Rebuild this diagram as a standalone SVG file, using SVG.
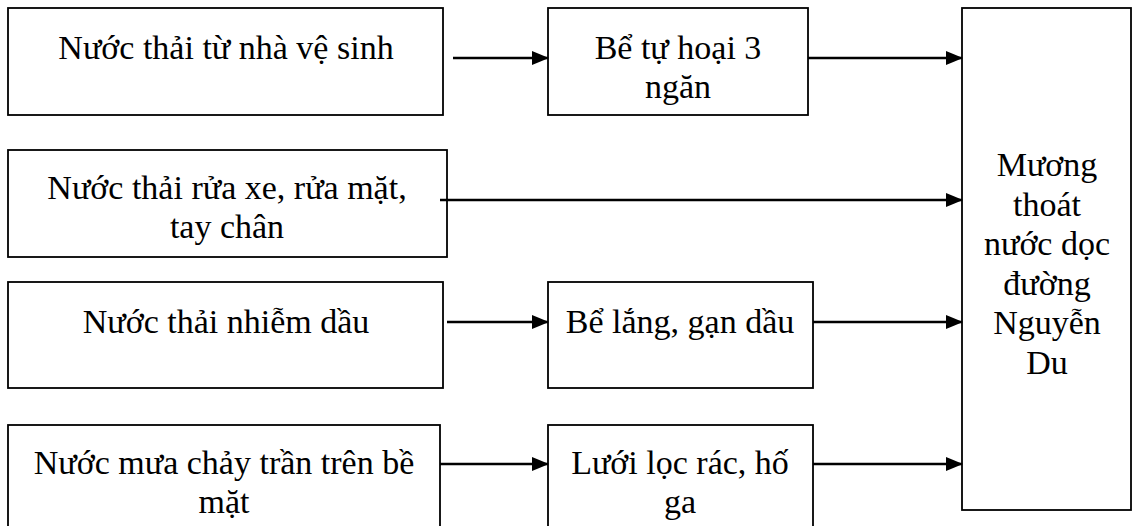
<svg xmlns="http://www.w3.org/2000/svg" width="1139" height="526" viewBox="0 0 1139 526">
<style>
.box{fill:#fff;stroke:#000;stroke-width:1.8}
.t{font-family:"Liberation Serif","Times New Roman",serif;font-size:34px;fill:#000;text-anchor:middle}
.c{stroke:#000;stroke-width:2.6;fill:none}
</style>
<defs>
<marker id="ah" markerWidth="17" markerHeight="14" refX="16" refY="7" orient="auto" markerUnits="userSpaceOnUse">
<path d="M0,0 L17,7 L0,14 Z" fill="#000"/>
</marker>
</defs>
<rect width="1139" height="526" fill="#fff"/>
<g id="n1"><rect class="box" x="8" y="8" width="435" height="107"/><text class="t" x="226" y="59">Nước thải từ nhà vệ sinh</text></g>
<g id="n2"><rect class="box" x="548" y="8" width="260" height="107"/><text class="t" x="678" y="59">Bể tự hoại 3</text><text class="t" x="678" y="98">ngăn</text></g>
<g id="n3"><rect class="box" x="8" y="150" width="439" height="107"/><text class="t" x="227" y="199">Nước thải rửa xe, rửa mặt,</text><text class="t" x="227" y="238">tay chân</text></g>
<g id="n4"><rect class="box" x="8" y="282" width="435" height="106"/><text class="t" x="226" y="333">Nước thải nhiễm dầu</text></g>
<g id="n5"><rect class="box" x="548" y="282" width="265" height="106"/><text class="t" x="680" y="333">Bể lắng, gạn dầu</text></g>
<g id="n6"><rect class="box" x="8" y="425" width="432" height="110"/><text class="t" x="224" y="474">Nước mưa chảy trần trên bề</text><text class="t" x="224" y="513">mặt</text></g>
<g id="n7"><rect class="box" x="548" y="425" width="265" height="110"/><text class="t" x="680" y="474">Lưới lọc rác, hố</text><text class="t" x="680" y="513">ga</text></g>
<g id="n8"><rect class="box" x="962" y="8" width="169" height="502"/>
<text class="t" x="1047" y="176">Mương</text><text class="t" x="1047" y="216">thoát</text><text class="t" x="1047" y="255">nước dọc</text><text class="t" x="1047" y="295">đường</text><text class="t" x="1047" y="334">Nguyễn</text><text class="t" x="1047" y="374">Du</text></g>
<g id="connectors">
<line class="c" x1="453" y1="58" x2="548" y2="58" marker-end="url(#ah)"/>
<line class="c" x1="808" y1="58" x2="962" y2="58" marker-end="url(#ah)"/>
<line class="c" x1="440" y1="200" x2="962" y2="200" marker-end="url(#ah)"/>
<line class="c" x1="447" y1="322" x2="548" y2="322" marker-end="url(#ah)"/>
<line class="c" x1="813" y1="322" x2="962" y2="322" marker-end="url(#ah)"/>
<line class="c" x1="440" y1="464" x2="548" y2="464" marker-end="url(#ah)"/>
<line class="c" x1="813" y1="464" x2="962" y2="464" marker-end="url(#ah)"/>
</g>
</svg>
